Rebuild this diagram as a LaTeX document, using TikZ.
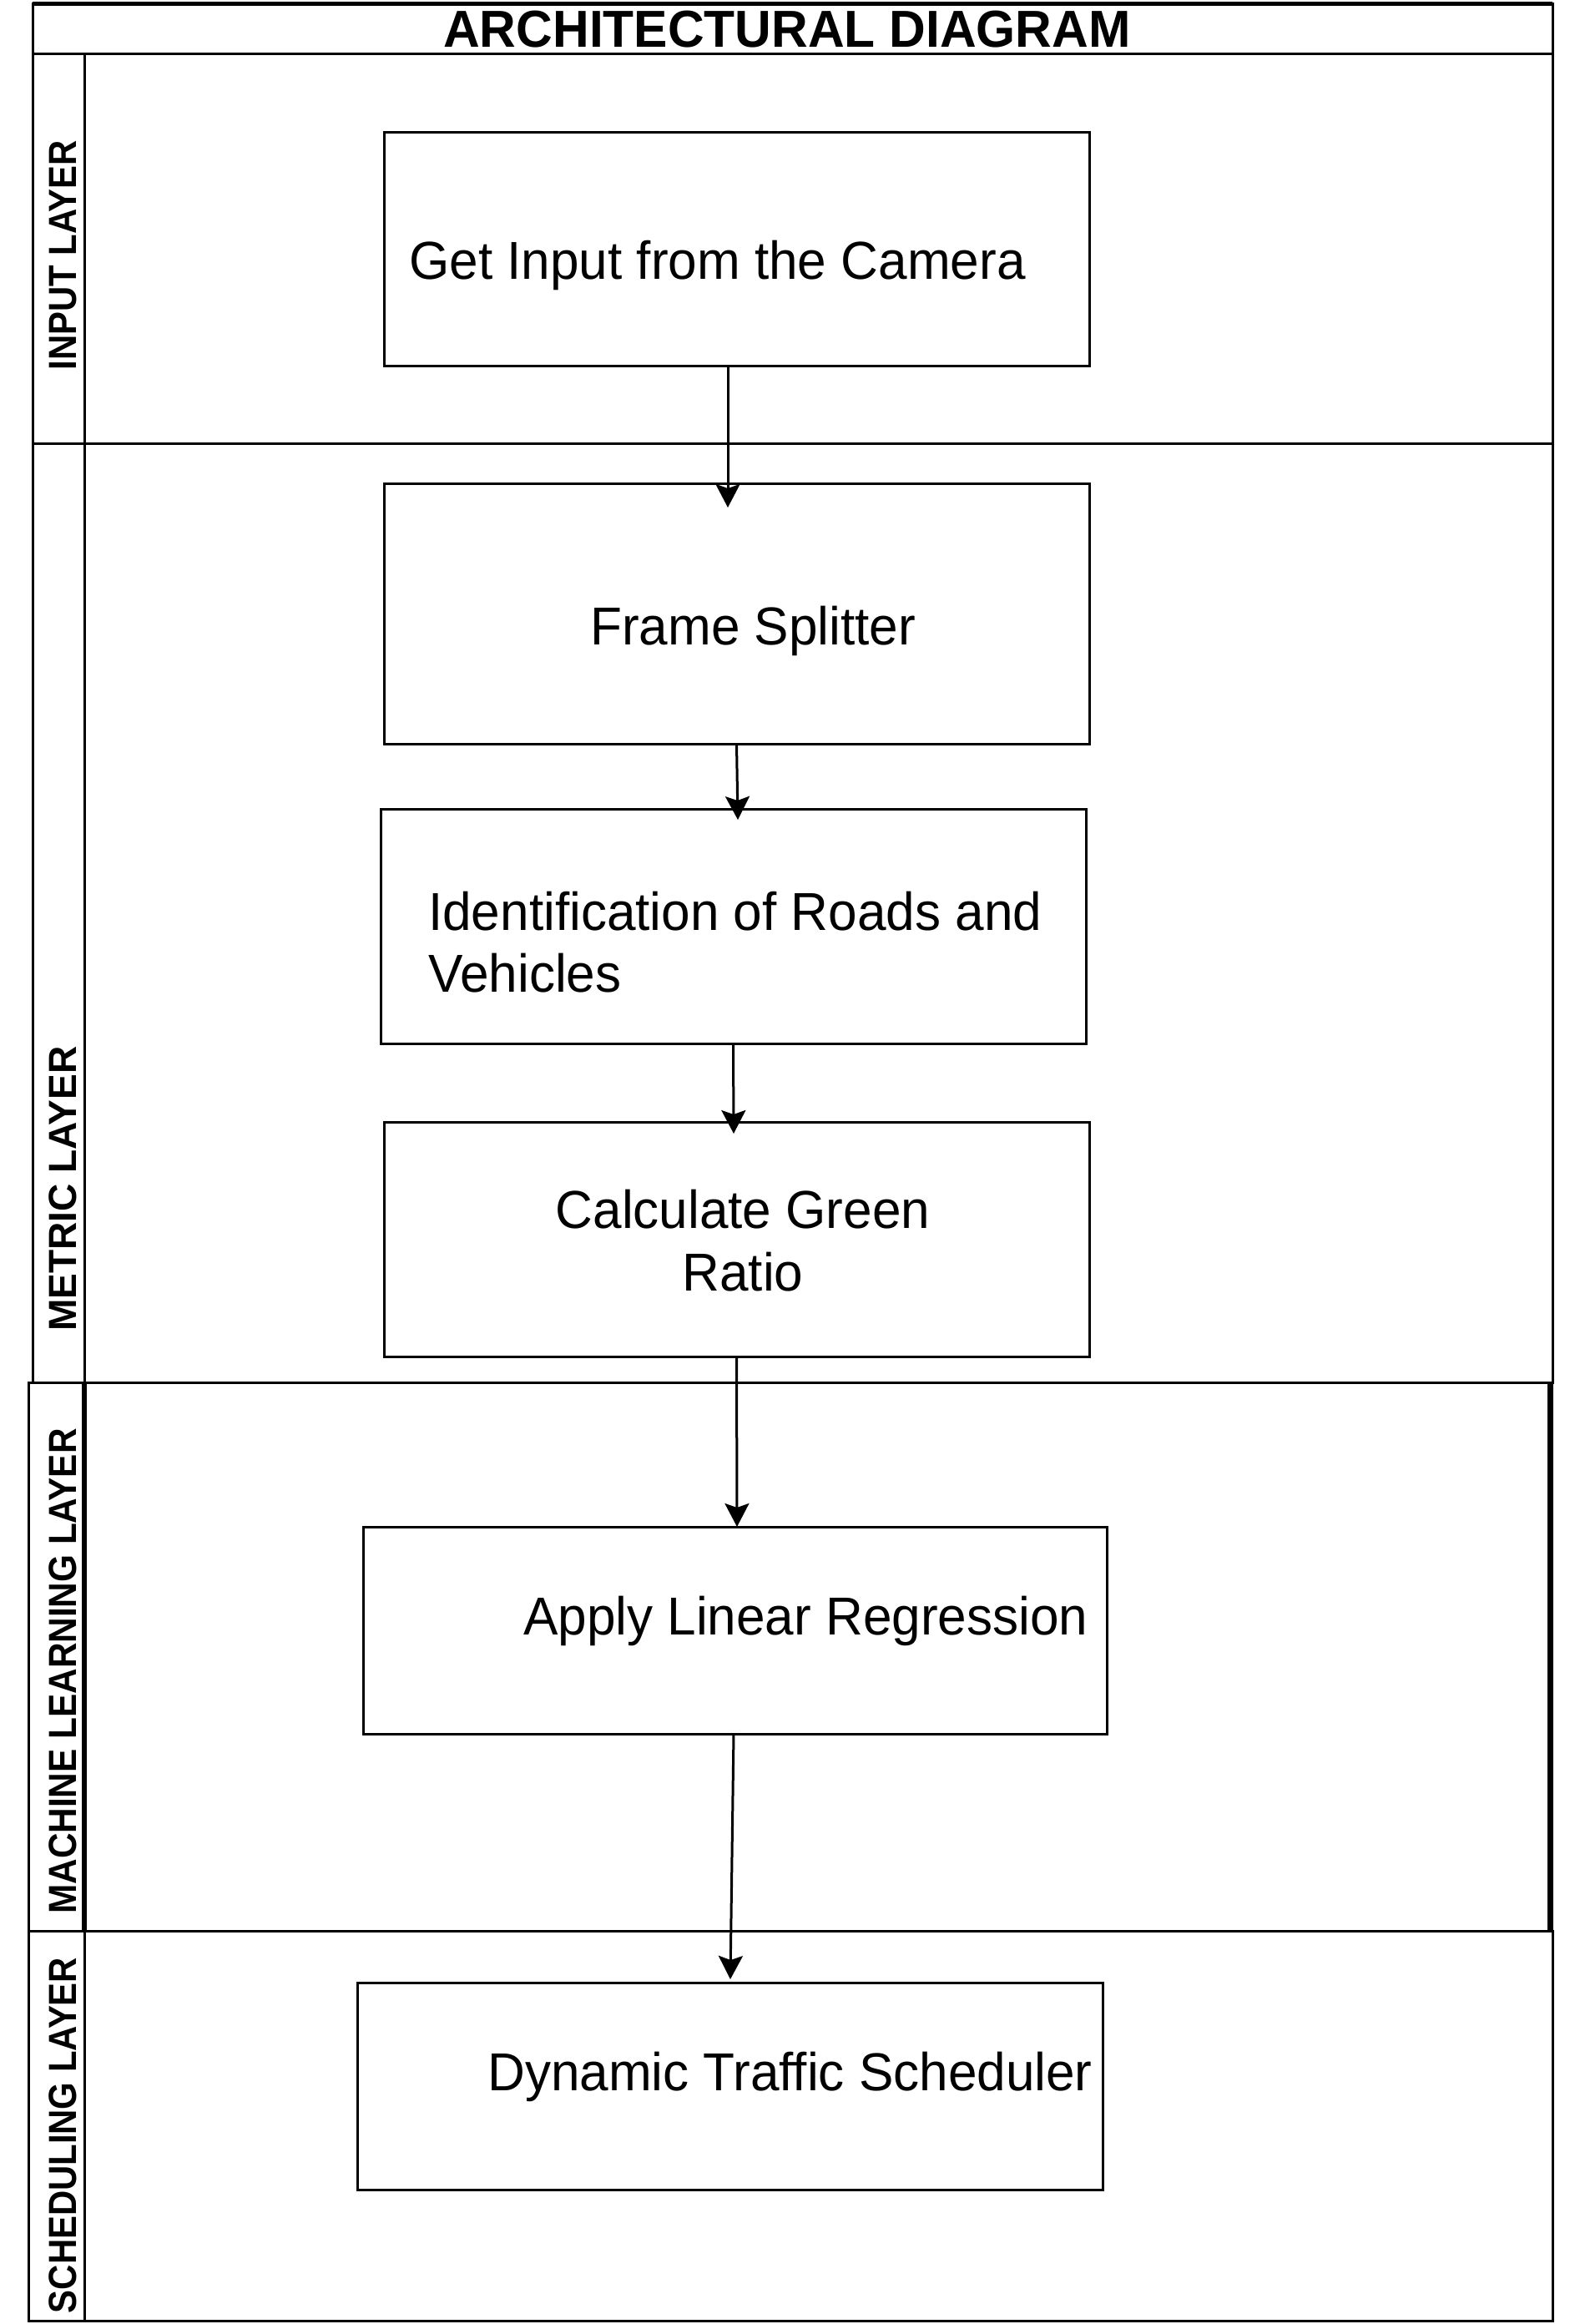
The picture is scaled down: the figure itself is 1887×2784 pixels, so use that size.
\documentclass[tikz,border=0pt]{standalone}
\usepackage{fontspec}
\setmainfont{Liberation Sans}
\newfontfamily\boxfont[FakeStretch=0.97]{Liberation Sans}
\usetikzlibrary{arrows.meta}
\begin{document}
\begin{tikzpicture}[x=1pt,y=-1pt,
  lane/.style={draw, line width=3pt},
  box/.style={draw, line width=3pt, rectangle, inner sep=0pt, outer sep=0pt},
  txt/.style={inner sep=0pt, anchor=base west, font=\boxfont\fontsize{64}{74}\selectfont},
  ctxt/.style={inner sep=0pt, anchor=base, font=\boxfont\fontsize{64}{74}\selectfont},
  lbl/.style={rotate=90, inner sep=0pt, font=\bfseries\fontsize{47}{50}\selectfont},
  arr/.style={line width=3pt, -{Stealth[length=28pt,width=29pt,inset=5pt]}}]
\useasboundingbox (0,0) rectangle (1887,2784);
\fill[white] (0,0) rectangle (1887,2784);
% swimlane frame
\draw[lane] (39,4) rectangle (1860,64);
\draw[line width=5pt] (39,4) -- (1860,4);
\draw[lane] (39,64) rectangle (1860,531);
\draw[lane] (39,531) rectangle (1860,1656);
\draw[lane] (34,1656) rectangle (1857,2313);
\draw[line width=7pt] (1857,1656) -- (1857,2313);
\draw[lane] (34,2313) rectangle (1860,2780);
\draw[lane] (101,64) -- (101,1656);
\draw[line width=6pt] (101,1656) -- (101,2313);
\draw[lane] (101,2313) -- (101,2780);
% title and lane labels
\node[inner sep=0pt, font=\bfseries\fontsize{60.5}{64}\selectfont] (title) at (943,35) {\scalebox{1}[1.03]{ARCHITECTURAL DIAGRAM}};
\node[lbl] (linput) at (76,306) {\scalebox{0.89}[1]{INPUT LAYER}};
\node[lbl] (lmetric) at (75,1424) {\scalebox{0.98}[1]{METRIC LAYER}};
\node[lbl] (lml) at (75,2002) {\scalebox{0.9}[1]{MACHINE LEARNING LAYER}};
\node[lbl] (lsched) at (75,2558) {\scalebox{0.89}[1]{SCHEDULING LAYER}};
% process boxes
\node[box, minimum width=845pt, minimum height=280pt] (b1) at (882.5,298) {};
\node[box, minimum width=845pt, minimum height=312pt] (b2) at (882.5,735) {};
\node[box, minimum width=845pt, minimum height=281pt] (b3) at (878.5,1109.5) {};
\node[box, minimum width=845pt, minimum height=281pt] (b4) at (882.5,1484.5) {};
\node[box, minimum width=891pt, minimum height=248pt] (b5) at (880.5,1953) {};
\node[box, minimum width=893pt, minimum height=248pt] (b6) at (874.5,2499) {};
% box texts
\node[txt] (t1) at (490,334) {Get Input from the Camera};
\node[txt] (t2) at (707,772) {Frame Splitter};
\node[txt] (t3a) at (513,1114) {Identification of Roads and};
\node[txt] (t3b) at (513,1188) {Vehicles};
\node[ctxt] (t4a) at (890,1471) {Calculate Green};
\node[ctxt] (t4b) at (890,1546) {Ratio};
\node[txt] (t5) at (627,1958) {Apply Linear Regression};
\node[txt] (t6) at (584,2504) {Dynamic Traffic Scheduler};
% connectors
\draw[arr] ([xshift=-10.5pt]b1.south) -- ([xshift=-10.5pt,yshift=-29pt]b2.north);
\draw[arr] (b2.south) -- ([xshift=5.5pt,yshift=-13pt]b3.north);
\draw[arr] (b3.south) -- ([xshift=0.5pt,yshift=-14pt]b3.south |- b4.north);
\draw[arr] (b4.south) -- ([xshift=2.5pt]b5.north);
\draw[arr] ([xshift=-1.5pt]b5.south) -- ([xshift=0.5pt,yshift=4pt]b6.north);
\end{tikzpicture}
\end{document}
